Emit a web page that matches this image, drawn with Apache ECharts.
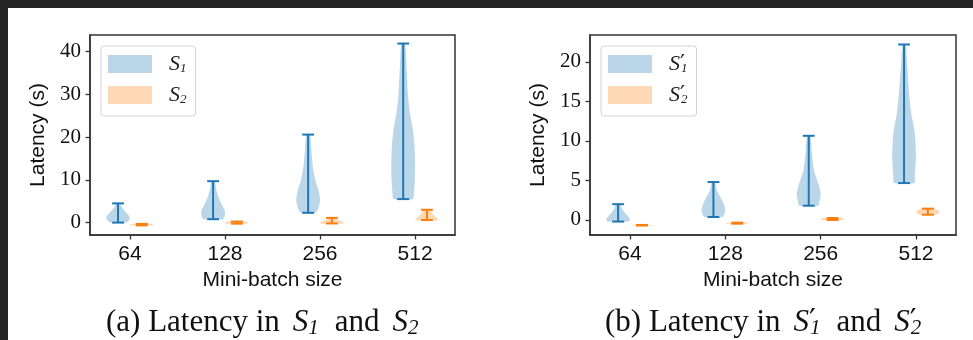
<!DOCTYPE html>
<html>
<head>
<meta charset="utf-8" />
<title>Latency violins</title>
<script src="https://cdn.jsdelivr.net/npm/echarts@6/dist/echarts.min.js"></script>
<style>
  body { margin: 0; padding: 0; background: #252525; }
  #main { position: absolute; left: 8px; top: 8px; width: 965px; height: 332px; background: #fff; }
</style>
</head>
<body>
<div id="main"></div>
<script>
var sizes = ['64', '128', '256', '512'];
var yTicksA = [0, 10, 20, 30, 40];
var yTicksB = [0, 5, 10, 15, 20];

// (a) S1 / S2  - extremes (s)
var s1Min = [0.0, 0.8, 2.3, 5.5];
var s1Max = [4.5, 9.7, 20.6, 41.9];
var s2Min = [-0.65, -0.25, -0.2, 0.6];
var s2Max = [-0.3, 0.25, 1.1, 3.0];
// density outline, [latency, relative width]
var s1Shape = [
  [[0, 0.65], [0.5, 0.9], [1, 1], [1.5, 0.95], [2.5, 0.65], [3.5, 0.35], [4.5, 0.15]],
  [[0.8, 0.8], [1.5, 0.97], [2.6, 1], [4, 0.77], [6, 0.45], [8, 0.25], [9.7, 0.15]],
  [[2.3, 0.6], [3, 0.8], [5, 1], [7, 0.92], [10, 0.6], [13, 0.4], [17, 0.27], [20.6, 0.15]],
  [[5.5, 0.8], [7, 0.9], [10, 0.98], [14, 1], [18, 0.95], [22, 0.8], [26, 0.55], [30, 0.4], [37, 0.27], [41.9, 0.15]]
];
var s2Shape = [
  [[-0.65, 0.9], [-0.47, 1], [-0.3, 0.85]],
  [[-0.25, 0.9], [0, 1], [0.25, 0.7]],
  [[-0.2, 1], [0.3, 0.8], [0.7, 0.4], [1.1, 0.3]],
  [[0.6, 1], [1.0, 0.9], [1.5, 0.65], [2.0, 0.5], [2.5, 0.4], [3.0, 0.35]]
];

// (b) S1' / S2'
var p1Min = [-0.2, 0.38, 1.81, 4.67];
var p1Max = [2.0, 4.8, 10.65, 22.2];
var p2Min = [-0.7, -0.47, 0.0, 0.67];
var p2Max = [-0.63, -0.34, 0.25, 1.43];
var p1Shape = [
  [[-0.2, 0.85], [0.1, 1], [0.6, 0.75], [1.2, 0.42], [2.0, 0.15]],
  [[0.38, 0.75], [0.7, 0.9], [1.3, 1], [2.1, 0.85], [3, 0.55], [3.8, 0.28], [4.8, 0.12]],
  [[1.81, 0.8], [2.3, 0.9], [3.3, 1], [4.6, 0.8], [6.3, 0.44], [8.4, 0.27], [10.65, 0.13]],
  [[4.67, 0.85], [5.5, 0.9], [8, 1], [10, 0.95], [11.5, 0.85], [13.5, 0.6], [15.6, 0.45], [19.8, 0.25], [22.2, 0.12]]
];
var p2Shape = [
  [[-0.7, 0.9], [-0.665, 1], [-0.63, 0.85]],
  [[-0.47, 0.9], [-0.4, 1], [-0.34, 0.8]],
  [[0, 0.9], [0.12, 1], [0.25, 0.8]],
  [[0.67, 0.7], [1.0, 1], [1.43, 0.6]]
];

var BLUE = '#1f77b4', BLUE_FILL = 'rgba(31,119,180,0.3)';
var ORANGE = '#ff7f0e', ORANGE_FILL = 'rgba(255,127,14,0.3)';
var HALF = 0.125, CAP = 0.0625, OFF = 0.125;
var SERIF = 'Liberation Serif', SANS = 'Liberation Sans';

function violin(mins, maxs, shapes, offset, line, fill) {
  return function (params, api) {
    var i = params.dataIndex;
    var pos = api.value(0) + offset;
    var right = [], left = [];
    shapes[i].forEach(function (p) {
      right.push(api.coord([pos + HALF * p[1], p[0]]));
      left.unshift(api.coord([pos - HALF * p[1], p[0]]));
    });
    var lo = api.coord([pos, mins[i]]);
    var hi = api.coord([pos, maxs[i]]);
    var xl = api.coord([pos - CAP, mins[i]])[0];
    var xr = api.coord([pos + CAP, mins[i]])[0];
    var ls = { stroke: line, lineWidth: 2 };
    return {
      type: 'group',
      children: [
        { type: 'polygon', shape: { points: right.concat(left), smooth: 0.25 }, style: { fill: fill } },
        { type: 'line', shape: { x1: lo[0], y1: lo[1], x2: hi[0], y2: hi[1] }, style: ls },
        { type: 'line', shape: { x1: xl, y1: lo[1], x2: xr, y2: lo[1] }, style: ls },
        { type: 'line', shape: { x1: xl, y1: hi[1], x2: xr, y2: hi[1] }, style: ls }
      ]
    };
  };
}

function violinSeries(name, g, mins, maxs, shapes, offset, line, fill) {
  return {
    type: 'custom', name: name, xAxisIndex: g, yAxisIndex: g, silent: true,
    itemStyle: { color: fill },
    renderItem: violin(mins, maxs, shapes, offset, line, fill),
    encode: { x: 0, y: [1, 2] },
    data: sizes.map(function (s, i) { return [i, mins[i], maxs[i]]; })
  };
}

function xAxis(g) {
  return {
    type: 'value', gridIndex: g, min: -0.42, max: 3.42,
    axisLine: { show: true, onZero: false, lineStyle: { color: '#333', width: 1.5 } },
    axisTick: { show: true, customValues: [0, 1, 2, 3], length: 4.5, lineStyle: { color: '#333', width: 1.3 } },
    axisLabel: { customValues: [0, 1, 2, 3], formatter: function (v) { return sizes[v]; },
      fontFamily: SANS, fontSize: 21, color: '#111', margin: 9 },
    splitLine: { show: false },
    name: 'Mini-batch size', nameLocation: 'middle', nameGap: 34,
    nameTextStyle: { fontFamily: SANS, fontSize: 21, color: '#111' }
  };
}

function yAxis(g, min, max, ticks) {
  return {
    type: 'value', gridIndex: g, min: min, max: max,
    axisLine: { show: true, onZero: false, lineStyle: { color: '#333', width: 1.5 } },
    axisTick: { show: true, customValues: ticks, length: 4.5, lineStyle: { color: '#333', width: 1.3 } },
    axisLabel: { customValues: ticks, fontFamily: SERIF, fontSize: 21, color: '#111', margin: 9 },
    splitLine: { show: false },
    name: 'Latency (s)', nameLocation: 'middle', nameGap: 41,
    nameTextStyle: { fontFamily: SANS, fontSize: 21, color: '#111' }
  };
}

var legendText = {
  S1: '{i|S}{s|1}', S2: '{i|S}{s|2}',
  S1p: '{i|S}{p|\u2032}{s|1}', S2p: '{i|S}{p|\u2032}{s|2}'
};
var legendRich = {
  i: { fontFamily: SERIF, fontStyle: 'italic', fontSize: 22, color: '#222', verticalAlign: 'top', padding: [0, 0, 0, 12] },
  p: { fontFamily: 'DejaVu Sans', fontSize: 22, color: '#222', verticalAlign: 'top', width: 1 },
  s: { fontFamily: SERIF, fontStyle: 'italic', fontSize: 13, color: '#222', verticalAlign: 'top', padding: [9, 0, 0, 0] }
};

function legend(left, names) {
  return {
    orient: 'vertical', left: left, top: 38, padding: [7, 9, 10, 7],
    itemWidth: 44, itemHeight: 18, itemGap: 9, selectedMode: false,
    backgroundColor: 'rgba(255,255,255,0.8)', borderColor: '#d3d3d3', borderWidth: 1, borderRadius: 3,
    data: [
      { name: names[0], icon: 'rect', itemStyle: { color: BLUE_FILL } },
      { name: names[1], icon: 'rect', itemStyle: { color: ORANGE_FILL } }
    ],
    formatter: function (n) { return legendText[n]; },
    textStyle: { rich: legendRich }
  };
}

var capRich = {
  n: { fontFamily: SERIF, fontSize: 31, fontWeight: 'normal', color: '#111', verticalAlign: 'top' },
  i: { fontFamily: SERIF, fontStyle: 'italic', fontSize: 31, fontWeight: 'normal', color: '#111', verticalAlign: 'top', padding: [0, 0, 0, 13] },
  p: { fontFamily: 'DejaVu Sans', fontSize: 30, fontWeight: 'normal', color: '#111', verticalAlign: 'top', width: 1 },
  s: { fontFamily: SERIF, fontStyle: 'italic', fontSize: 21, fontWeight: 'normal', color: '#111', verticalAlign: 'top', padding: [11, 0, 0, 0] },
  m: { fontFamily: SERIF, fontSize: 31, fontWeight: 'normal', color: '#111', verticalAlign: 'top', padding: [0, 0, 0, 16] }
};

var chart = echarts.init(document.getElementById('main'));
chart.setOption({
  animation: false,
  title: [
    { text: '{n|(a) Latency in}{i|S}{s|1}{m|and}{i|S}{s|2}', left: 98, top: 299, padding: 0,
      textStyle: { fontWeight: 'normal', rich: capRich } },
    { text: '{n|(b) Latency in}{i|S}{p|\u2032}{s|1}{m|and}{i|S}{p|\u2032}{s|2}', left: 597, top: 299, padding: 0,
      textStyle: { fontWeight: 'normal', rich: capRich } }
  ],
  legend: [legend(93, ['S1', 'S2']), legend(593, ['S1p', 'S2p'])],
  grid: [
    { left: 82, top: 27, width: 365, height: 200, show: true, borderColor: '#333', borderWidth: 1.5 },
    { left: 582, top: 27, width: 366, height: 200, show: true, borderColor: '#333', borderWidth: 1.5 }
  ],
  xAxis: [xAxis(0), xAxis(1)],
  yAxis: [yAxis(0, -2.9, 43.9, yTicksA), yAxis(1, -1.9, 23.4, yTicksB)],
  series: [
    violinSeries('S1', 0, s1Min, s1Max, s1Shape, -OFF, BLUE, BLUE_FILL),
    violinSeries('S2', 0, s2Min, s2Max, s2Shape, OFF, ORANGE, ORANGE_FILL),
    violinSeries('S1p', 1, p1Min, p1Max, p1Shape, -OFF, BLUE, BLUE_FILL),
    violinSeries('S2p', 1, p2Min, p2Max, p2Shape, OFF, ORANGE, ORANGE_FILL)
  ]
});
</script>
</body>
</html>
